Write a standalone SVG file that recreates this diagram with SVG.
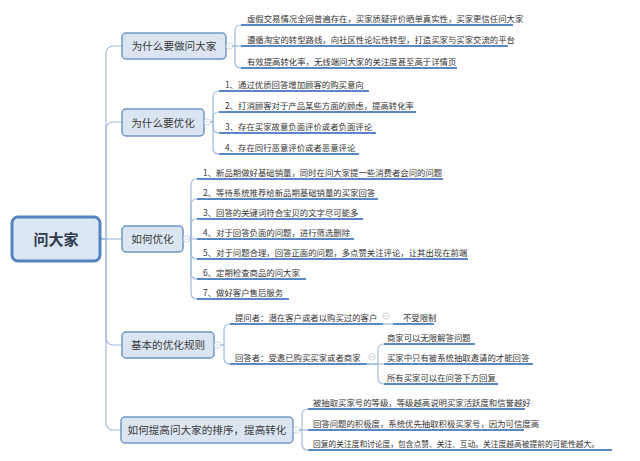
<svg xmlns="http://www.w3.org/2000/svg" width="640" height="461" viewBox="0 0 640 461">
<style>
.cn{fill:none;stroke:#9fbbdd;stroke-width:1.2}
.ul{fill:none;stroke:#5a88c6;stroke-width:2}
.bx{fill:#dbe5f2;stroke:#6f96c8;stroke-width:1.5}
.rt{fill:#dce6f3;stroke:#5582c0;stroke-width:3}
.t{font-family:"Noto Sans CJK SC","Noto Sans",sans-serif;fill:#333333}
.c{font-size:8.4px}
.b{font-size:10.6px;text-anchor:middle;fill:#3a3a3a}
.r{font-size:15px;font-weight:bold;text-anchor:middle;fill:#2f3b50}
.mk{fill:#ffffff;stroke:#c4c9d0;stroke-width:0.8}
.mm{stroke:#c4c9d0;stroke-width:0.8}
</style>
<rect width="640" height="461" fill="#ffffff"/>
<g id="connectors">
<path class="cn" d="M100,239 H106 V54 Q106,46 114,46 H122"/>
<path class="cn" d="M100,239 H106 V130 Q106,122 114,122 H122"/>
<path class="cn" d="M100,239 H122"/>
<path class="cn" d="M100,239 H106 V337 Q106,345 114,345 H122"/>
<path class="cn" d="M100,239 H106 V422 Q106,430 114,430 H122"/>
<path class="cn" d="M226,46 H235 V31 Q235,25 241,25"/>
<path class="cn" d="M226,46 H241"/>
<path class="cn" d="M226,46 H235 V62 Q235,68 241,68"/>
<path class="cn" d="M204,122 H213 V97 Q213,91 219,91"/>
<path class="cn" d="M204,122 H213 V118 Q213,112 219,112"/>
<path class="cn" d="M204,122 H213 V127 Q213,133 219,133"/>
<path class="cn" d="M204,122 H213 V148 Q213,154 219,154"/>
<path class="cn" d="M183,239 H191 V185 Q191,179 197,179"/>
<path class="cn" d="M183,239 H191 V205 Q191,199 197,199"/>
<path class="cn" d="M183,239 H191 V225 Q191,219 197,219"/>
<path class="cn" d="M183,239 H197"/>
<path class="cn" d="M183,239 H191 V253 Q191,259 197,259"/>
<path class="cn" d="M183,239 H191 V273 Q191,279 197,279"/>
<path class="cn" d="M183,239 H191 V293 Q191,299 197,299"/>
<path class="cn" d="M214,345 H224 V330 Q224,324 230,324"/>
<path class="cn" d="M214,345 H224 V358 Q224,364 230,364"/>
<path class="cn" d="M383,324 H393"/>
<path class="cn" d="M367,364 H378 V350 Q378,344 384,344"/>
<path class="cn" d="M367,364 H384"/>
<path class="cn" d="M367,364 H378 V378 Q378,384 384,384"/>
<path class="cn" d="M293,430 H302 V415 Q302,409 308,409"/>
<path class="cn" d="M293,430 H308"/>
<path class="cn" d="M293,430 H302 V444 Q302,450 308,450"/>
</g>
<g id="root">
<rect class="rt" x="12" y="217" width="88" height="44" rx="6"/>
<text class="t r" x="56" y="244.5">问大家</text>
</g>
<g id="b1">
<rect class="bx" x="122" y="33" width="104" height="26" rx="4"/>
<text class="t b" x="174" y="50">为什么要做问大家</text>
<circle class="mk" cx="229.5" cy="46" r="3.2"/><line class="mm" x1="227.8" y1="46" x2="231.2" y2="46"/>
</g>
<g id="b1c">
<path class="ul" d="M241,25 H513"/><text class="t c" x="247" y="21.5">虚假交易情况全网普遍存在，买家质疑评价晒单真实性，买家更信任问大家</text>
<path class="ul" d="M241,46 H508"/><text class="t c" x="247" y="42.5">遵循淘宝的转型路线，向社区性论坛性转型，打造买家与买家交流的平台</text>
<path class="ul" d="M241,68 H457"/><text class="t c" x="247" y="64.5">有效提高转化率，无线端问大家的关注度甚至高于详情页</text>
</g>
<g id="b2">
<rect class="bx" x="122" y="109" width="82" height="27" rx="4"/>
<text class="t b" x="163" y="126.5">为什么要优化</text>
<circle class="mk" cx="207.5" cy="122" r="3.2"/><line class="mm" x1="205.8" y1="122" x2="209.2" y2="122"/>
</g>
<g id="b2c">
<path class="ul" d="M219,91 H369"/><text class="t c" x="225" y="87.5">1、通过优质回答增加顾客的购买意向</text>
<path class="ul" d="M219,112 H416"/><text class="t c" x="225" y="108.5">2、打消顾客对于产品某些方面的顾虑，提高转化率</text>
<path class="ul" d="M219,133 H376"/><text class="t c" x="225" y="129.5">3、存在买家故意负面评价或者负面评论</text>
<path class="ul" d="M219,154 H359"/><text class="t c" x="225" y="150.5">4、存在同行恶意评价或者恶意评论</text>
</g>
<g id="b3">
<rect class="bx" x="122" y="226" width="61" height="26" rx="4"/>
<text class="t b" x="152.5" y="243">如何优化</text>
<circle class="mk" cx="186.5" cy="239" r="3.2"/><line class="mm" x1="184.8" y1="239" x2="188.2" y2="239"/>
</g>
<g id="b3c">
<path class="ul" d="M197,179 H443"/><text class="t c" x="203" y="175.5">1、新品期做好基础销量，同时在问大家提一些消费者会问的问题</text>
<path class="ul" d="M197,199 H378"/><text class="t c" x="203" y="195.5">2、等待系统推荐给新品期基础销量的买家回答</text>
<path class="ul" d="M197,219 H363"/><text class="t c" x="203" y="215.5">3、回答的关键词符合宝贝的文字尽可能多</text>
<path class="ul" d="M197,239 H354"/><text class="t c" x="203" y="235.5">4、对于回答负面的问题，进行筛选删除</text>
<path class="ul" d="M197,259 H468"/><text class="t c" x="203" y="255.5">5、对于问题合理，回答正面的问题，多点赞关注评论，让其出现在前端</text>
<path class="ul" d="M197,279 H306"/><text class="t c" x="203" y="275.5">6、定期检查商品的问大家</text>
<path class="ul" d="M197,299 H289"/><text class="t c" x="203" y="295.5">7、做好客户售后服务</text>
</g>
<g id="b4">
<rect class="bx" x="122" y="332" width="92" height="26" rx="4"/>
<text class="t b" x="168" y="349">基本的优化规则</text>
<circle class="mk" cx="217.5" cy="345" r="3.2"/><line class="mm" x1="215.8" y1="345" x2="219.2" y2="345"/>
</g>
<g id="b4c">
<path class="ul" d="M230,324 H383"/><text class="t c" x="235" y="320.5">提问者：潜在客户或者以购买过的客户</text>
<circle class="mk" cx="386" cy="316" r="3.2"/><line class="mm" x1="384.3" y1="316" x2="387.7" y2="316"/>
<path class="ul" d="M393,324 H434"/><text class="t c" x="403" y="320.5">不受限制</text>
<path class="ul" d="M230,364 H367"/><text class="t c" x="235" y="360.5">回答者：受邀已购买买家或者商家</text>
<circle class="mk" cx="372" cy="357" r="3.2"/><line class="mm" x1="370.3" y1="357" x2="373.7" y2="357"/>
<path class="ul" d="M384,344 H475"/><text class="t c" x="387" y="340.5">商家可以无限解答问题</text>
<path class="ul" d="M384,364 H533"/><text class="t c" x="387" y="360.5">买家中只有被系统抽取邀请的才能回答</text>
<path class="ul" d="M384,384 H498"/><text class="t c" x="387" y="380.5">所有买家可以在问答下方回复</text>
</g>
<g id="b5">
<rect class="bx" x="121" y="417" width="172" height="26" rx="4"/>
<text class="t b" x="207" y="434">如何提高问大家的排序，提高转化</text>
<circle class="mk" cx="296.5" cy="430" r="3.2"/><line class="mm" x1="294.8" y1="430" x2="298.2" y2="430"/>
</g>
<g id="b5c">
<path class="ul" d="M308,409 H525"/><text class="t c" x="313" y="405.5">被抽取买家号的等级，等级越高说明买家活跃度和信誉越好</text>
<path class="ul" d="M308,430 H524"/><text class="t c" x="313" y="426.5">回答问题的积极度，系统优先抽取积极买家号，因为可信度高</text>
<path class="ul" d="M308,450 H612"/><text class="t c" x="313" y="446.5" textLength="286" lengthAdjust="spacingAndGlyphs">回复的关注度和讨论度，包含点赞、关注、互动。关注度越高被提前的可能性越大。</text>
</g>
</svg>
